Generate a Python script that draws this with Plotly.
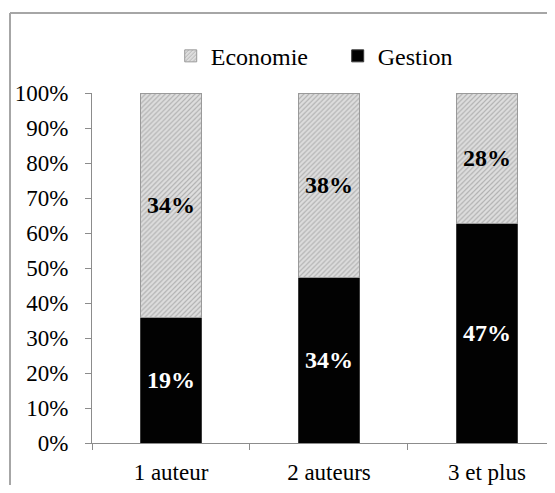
import plotly.graph_objects as go

categories = ["1 auteur", "2 auteurs", "3 et plus"]
gestion = [19, 34, 47]
economie = [34, 38, 28]
y_ticks = list(range(0, 101, 10))
y_tick_labels = [f"{v}%" for v in y_ticks]

FONT = "Liberation Serif, Times New Roman, serif"

fig = go.Figure()
fig.add_trace(go.Bar(
    name="Gestion", x=categories, y=gestion,
    customdata=gestion, texttemplate="<b>%{customdata}%</b>",
    textposition="inside", insidetextanchor="middle", textangle=0,
    textfont=dict(family=FONT, size=24, color="white"),
    marker=dict(color="#020202", line=dict(color="#3a3a3a", width=1)),
    width=0.39,
))
fig.add_trace(go.Bar(
    name="Economie", x=categories, y=economie,
    customdata=economie, texttemplate="<b>%{customdata}%</b>",
    textposition="inside", insidetextanchor="middle", textangle=0,
    textfont=dict(family=FONT, size=24, color="black"),
    marker=dict(color="#d8d8d8",
                pattern=dict(shape="/", fgcolor="#858585", bgcolor="#dedede", size=3.5, solidity=0.35),
                line=dict(color="#9a9a9a", width=1)),
    width=0.39,
))

# page has an 8px body margin; figure coordinates are page coordinates minus 8
PLOT_W = 455
BX0 = (2 - 84) / PLOT_W
BY1 = (435 - 5) / 350
border = dict(color="#a6a6a6", width=2)
fig.update_layout(
    width=539, height=477,
    barmode="stack", barnorm="percent",
    margin=dict(l=84, r=0, t=85, b=42),
    paper_bgcolor="white", plot_bgcolor="white",
    font=dict(family=FONT, size=23, color="black"),
    showlegend=True,
    legend=dict(orientation="h", x=0.173, xanchor="left", y=1.105, yanchor="middle",
                traceorder="reversed", font=dict(family=FONT, size=24),
                itemwidth=30, entrywidth=122),
    shapes=[
        dict(type="line", xref="paper", yref="paper", x0=BX0, x1=1.0, y0=BY1, y1=BY1,
             line=border, layer="below"),
        dict(type="line", xref="paper", yref="paper", x0=BX0, x1=BX0, y0=-0.2, y1=BY1,
             line=border, layer="below"),
    ],
)
fig.update_yaxes(range=[0, 100], tickvals=y_ticks, ticktext=y_tick_labels,
                 showgrid=False, showline=True, linecolor="#8c8c8c", linewidth=1,
                 ticks="outside", ticklen=6, tickcolor="#8c8c8c",
                 ticklabelstandoff=12, zeroline=False,
                 tickfont=dict(family=FONT, size=23))
fig.update_xaxes(range=[-0.5, 2.38], showgrid=False, showline=True, linecolor="#8c8c8c", linewidth=1,
                 ticks="outside", ticklen=6, tickcolor="#8c8c8c", tickson="boundaries",
                 ticklabelstandoff=8,
                 tickfont=dict(family=FONT, size=23))

fig.write_html("out.html")
